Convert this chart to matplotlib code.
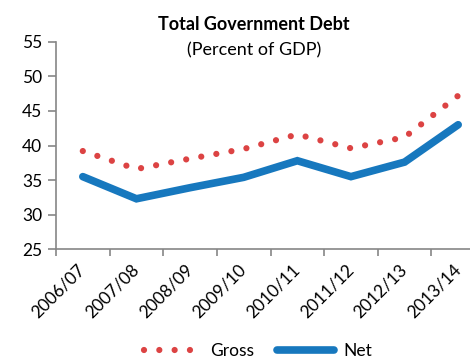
import matplotlib
matplotlib.use('Agg')
import matplotlib.pyplot as plt
import matplotlib.transforms as mtransforms
from matplotlib.lines import Line2D

years = ['2006/07', '2007/08', '2008/09', '2009/10', '2010/11', '2011/12', '2012/13', '2013/14']
gross = [39.2, 36.6, 38.1, 39.5, 41.6, 39.6, 41.2, 47.2]
net = [35.5, 32.3, 33.9, 35.4, 37.8, 35.5, 37.6, 43.0]

plt.rcParams['font.family'] = ['Lato', 'DejaVu Sans']

red = '#dc4343'
blue = '#1778be'
grey = '#868686'
dots = (0, (0.001, 2.45))

fig = plt.figure(figsize=(4.7, 3.62), dpi=100)
ax = fig.add_axes([56/470, 1 - 249.3/362, 429/470, 207.6/362])

x = list(range(len(years)))
ax.plot(x, gross, color=red, lw=4.5, linestyle=dots, dash_capstyle='round', label='Gross')
ax.plot(x, net, color=blue, lw=5.5, solid_capstyle='round',
        solid_joinstyle='miter', label='Net')

ax.set_xlim(-0.5, 7.5)
ax.set_ylim(25, 55)
ax.set_yticks(range(25, 56, 5))
ax.set_xticks([i - 0.5 for i in x])
ax.set_xticklabels([])
ax.set_xticks(x, minor=True)
ax.set_xticklabels(years, minor=True, rotation=45, ha='right', va='center',
                   rotation_mode='anchor', fontsize=12.5)
shift = mtransforms.ScaledTranslation(4/100, 0, fig.dpi_scale_trans)
for lab in ax.get_xticklabels(minor=True):
    lab.set_transform(lab.get_transform() + shift)
ax.tick_params(axis='x', which='minor', length=0, pad=13)
ax.tick_params(axis='x', which='major', length=5, color=grey, width=1.2)
ax.tick_params(axis='y', length=6, color=grey, width=1.2, labelsize=12.5, pad=4)

for s in ['top', 'right']:
    ax.spines[s].set_visible(False)
for s in ['left', 'bottom']:
    ax.spines[s].set_color(grey)
    ax.spines[s].set_linewidth(1.2)

fig.text(254/470, 1 - 25/362, 'Total Government Debt', ha='center', va='center',
         fontsize=13, fontweight='bold')
fig.text(254/470, 1 - 50/362, '(Percent of GDP)', ha='center', va='center',
         fontsize=13)

handles = [Line2D([0], [0], color=red, lw=4.5, linestyle=dots, dash_capstyle='round'),
           Line2D([0], [0], color=blue, lw=5.5, solid_capstyle='round')]
fig.legend(handles, ['Gross', 'Net'], loc='center', bbox_to_anchor=(258/470, 1 - 351/362),
           ncol=2, frameon=False, fontsize=12.5, handlelength=3.3, handletextpad=0.5,
           columnspacing=1.3)

fig.savefig('out.png', dpi=100)
